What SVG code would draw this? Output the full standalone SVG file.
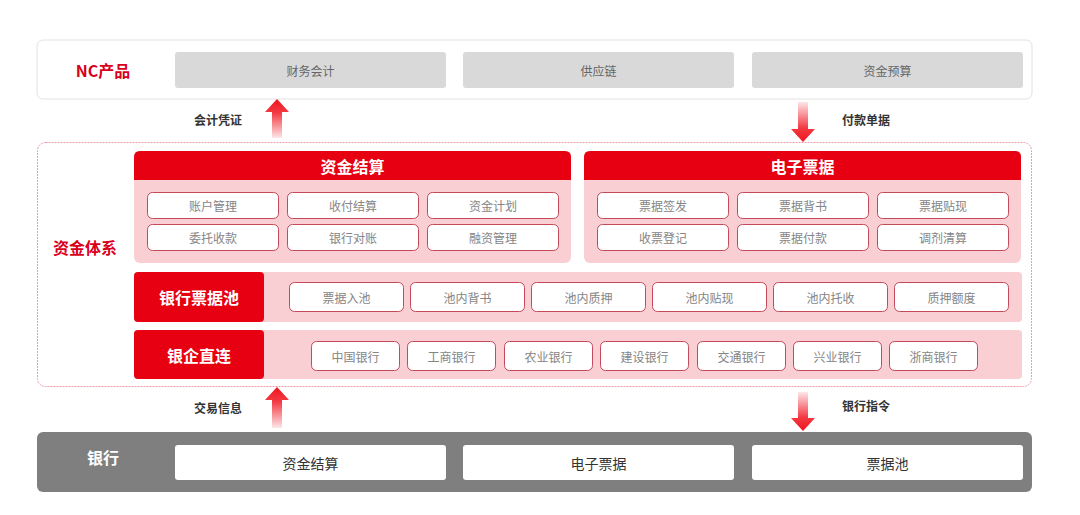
<svg xmlns="http://www.w3.org/2000/svg" width="1080" height="515" viewBox="0 0 1080 515">
<defs>
<linearGradient id="gUp" x1="0" y1="0" x2="0" y2="1">
<stop offset="0" stop-color="#f0141e"/>
<stop offset="0.35" stop-color="#f23a42"/>
<stop offset="1" stop-color="#fde6e8"/>
</linearGradient>
<linearGradient id="gDown" x1="0" y1="1" x2="0" y2="0">
<stop offset="0" stop-color="#f0141e"/>
<stop offset="0.35" stop-color="#f23a42"/>
<stop offset="1" stop-color="#fde6e8"/>
</linearGradient>
<style>
text{font-family:"Noto Sans CJK SC","Noto Sans",sans-serif;text-anchor:middle;dominant-baseline:central}
.grayBox{fill:#d9d9d9}
.gt{font-size:12px;fill:#666}
.item{fill:#ffffff;stroke:#c4495a;stroke-width:1}
.it{font-size:12px;fill:#858585}
.pink{fill:#f9cfd4}
.red{fill:#e60012}
.wt{font-size:16px;font-weight:700;fill:#ffffff}
.lbl{font-size:12px;font-weight:700;fill:#333}
.redt{font-size:16px;font-weight:700;fill:#d9001b}
.bw{fill:#ffffff}
.bt{font-size:14px;fill:#333}
</style>
</defs>

<g id="nc-products">
<rect x="37" y="40" width="995" height="59" rx="6" fill="#ffffff" stroke="#e2e2e2" stroke-width="1"/>
<text class="redt" x="103" y="70">NC产品</text>
<rect class="grayBox" x="175" y="52" width="271" height="36" rx="3"/>
<text class="gt" x="310.5" y="70">财务会计</text>
<rect class="grayBox" x="463" y="52" width="271" height="36" rx="3"/>
<text class="gt" x="598.5" y="70">供应链</text>
<rect class="grayBox" x="752" y="52" width="271" height="36" rx="3"/>
<text class="gt" x="887.5" y="70">资金预算</text>
</g>

<g id="fund-system">
<rect x="37.5" y="142.5" width="994" height="244" rx="8" fill="#ffffff" stroke="#eb9ea8" stroke-width="1" stroke-dasharray="2 1"/>
<text class="redt" x="85" y="247">资金体系</text>
</g>

<g id="fund-settlement">
<rect class="pink" x="134" y="151" width="437" height="112" rx="6"/>
<path class="red" d="M134,180 V157 Q134,151 140,151 H565 Q571,151 571,157 V180 Z"/>
<text class="wt" x="352.5" y="166">资金结算</text>
<rect class="item" x="147.5" y="192.5" width="131" height="26" rx="5"/><text class="it" x="213" y="205.5">账户管理</text>
<rect class="item" x="287.5" y="192.5" width="131" height="26" rx="5"/><text class="it" x="353" y="205.5">收付结算</text>
<rect class="item" x="427.5" y="192.5" width="131" height="26" rx="5"/><text class="it" x="493" y="205.5">资金计划</text>
<rect class="item" x="147.5" y="224.5" width="131" height="26" rx="5"/><text class="it" x="213" y="237.5">委托收款</text>
<rect class="item" x="287.5" y="224.5" width="131" height="26" rx="5"/><text class="it" x="353" y="237.5">银行对账</text>
<rect class="item" x="427.5" y="224.5" width="131" height="26" rx="5"/><text class="it" x="493" y="237.5">融资管理</text>
</g>

<g id="e-bills">
<rect class="pink" x="584" y="151" width="437" height="112" rx="6"/>
<path class="red" d="M584,180 V157 Q584,151 590,151 H1015 Q1021,151 1021,157 V180 Z"/>
<text class="wt" x="802.5" y="166">电子票据</text>
<rect class="item" x="597.5" y="192.5" width="131" height="26" rx="5"/><text class="it" x="663" y="205.5">票据签发</text>
<rect class="item" x="737.5" y="192.5" width="131" height="26" rx="5"/><text class="it" x="803" y="205.5">票据背书</text>
<rect class="item" x="877.5" y="192.5" width="131" height="26" rx="5"/><text class="it" x="943" y="205.5">票据贴现</text>
<rect class="item" x="597.5" y="224.5" width="131" height="26" rx="5"/><text class="it" x="663" y="237.5">收票登记</text>
<rect class="item" x="737.5" y="224.5" width="131" height="26" rx="5"/><text class="it" x="803" y="237.5">票据付款</text>
<rect class="item" x="877.5" y="224.5" width="131" height="26" rx="5"/><text class="it" x="943" y="237.5">调剂清算</text>
</g>

<g id="bank-bill-pool">
<rect class="pink" x="134" y="272" width="888" height="50" rx="4"/>
<rect class="red" x="134" y="272" width="130" height="50" rx="4"/>
<text class="wt" x="199" y="297">银行票据池</text>
<rect class="item" x="289.5" y="282.5" width="114" height="29" rx="5"/><text class="it" x="346.5" y="297">票据入池</text>
<rect class="item" x="410.5" y="282.5" width="114" height="29" rx="5"/><text class="it" x="467.5" y="297">池内背书</text>
<rect class="item" x="531.5" y="282.5" width="114" height="29" rx="5"/><text class="it" x="588.5" y="297">池内质押</text>
<rect class="item" x="652.5" y="282.5" width="114" height="29" rx="5"/><text class="it" x="709.5" y="297">池内贴现</text>
<rect class="item" x="773.5" y="282.5" width="114" height="29" rx="5"/><text class="it" x="830.5" y="297">池内托收</text>
<rect class="item" x="894.5" y="282.5" width="114" height="29" rx="5"/><text class="it" x="951.5" y="297">质押额度</text>
</g>

<g id="bank-direct">
<rect class="pink" x="134" y="330" width="888" height="49" rx="4"/>
<rect class="red" x="134" y="330" width="130" height="49" rx="4"/>
<text class="wt" x="199" y="354.5">银企直连</text>
<rect class="item" x="311.5" y="341.5" width="88" height="29" rx="5"/><text class="it" x="355.5" y="356">中国银行</text>
<rect class="item" x="407.5" y="341.5" width="88" height="29" rx="5"/><text class="it" x="451.5" y="356">工商银行</text>
<rect class="item" x="504.5" y="341.5" width="88" height="29" rx="5"/><text class="it" x="548.5" y="356">农业银行</text>
<rect class="item" x="600.5" y="341.5" width="88" height="29" rx="5"/><text class="it" x="644.5" y="356">建设银行</text>
<rect class="item" x="697.5" y="341.5" width="88" height="29" rx="5"/><text class="it" x="741.5" y="356">交通银行</text>
<rect class="item" x="793.5" y="341.5" width="88" height="29" rx="5"/><text class="it" x="837.5" y="356">兴业银行</text>
<rect class="item" x="889.5" y="341.5" width="88" height="29" rx="5"/><text class="it" x="933.5" y="356">浙商银行</text>
</g>

<g id="bank">
<rect x="37" y="432" width="995" height="60" rx="6" fill="#7f7f7f"/>
<text class="wt" x="103" y="457">银行</text>
<rect class="bw" x="175" y="445" width="271" height="35" rx="3"/>
<text class="bt" x="310.5" y="462.5">资金结算</text>
<rect class="bw" x="463" y="445" width="271" height="35" rx="3"/>
<text class="bt" x="598.5" y="462.5">电子票据</text>
<rect class="bw" x="752" y="445" width="271" height="35" rx="3"/>
<text class="bt" x="887.5" y="462.5">票据池</text>
</g>

<g id="connectors">
<path fill="url(#gUp)" d="M277,99 L289,112 L282,112 L282,138 L272,138 L272,112 L265,112 Z"/>
<text class="lbl" x="218" y="119">会计凭证</text>
<path fill="url(#gDown)" d="M798,102 L808,102 L808,129 L815,129 L803,142 L791,129 L798,129 Z"/>
<text class="lbl" x="866" y="119">付款单据</text>
<path fill="url(#gUp)" d="M277,387 L289,400 L282,400 L282,428 L272,428 L272,400 L265,400 Z"/>
<text class="lbl" x="218" y="407">交易信息</text>
<path fill="url(#gDown)" d="M798,392 L808,392 L808,418 L815,418 L803,431 L791,418 L798,418 Z"/>
<text class="lbl" x="866" y="405">银行指令</text>
</g>
</svg>
